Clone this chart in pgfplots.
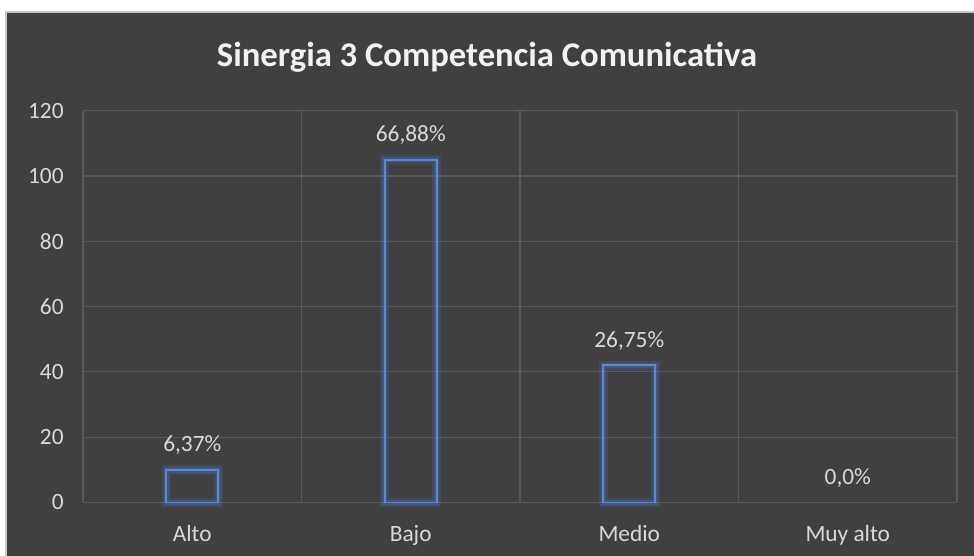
\documentclass[border=0pt]{standalone}
\usepackage{pgfplots}
\pgfplotsset{compat=1.18}
\usepackage{fontspec}
\setmainfont{Carlito}
\definecolor{bg}{HTML}{404040}
\definecolor{gridc}{HTML}{595959}
\definecolor{txt}{HTML}{D9D9D9}
\definecolor{barc}{HTML}{4472C4}
\begin{document}
\begin{tikzpicture}
\useasboundingbox (0,0) rectangle (730.5pt,417pt);
\fill[white] (0,0) rectangle (730.5pt,417pt);
\fill[bg] (4.5pt,0) rectangle (730.5pt,408pt);
\draw[line width=1.2pt, color=gray!45] (4.5pt,0) -- (4.5pt,408pt) -- (731pt,408pt);
\node[anchor=base, text=white!95!black, font=\fontsize{26}{30}\selectfont\bfseries] at (365.25pt,366.75pt) {Sinergia 3 Competencia Comunicativa};
\begin{axis}[
  at={(62.25pt,40.125pt)}, anchor=south west,
  scale only axis, width=655.5pt, height=293.85pt,
  xmin=-0.5, xmax=3.5, ymin=0, ymax=120,
  ytick={0,20,...,120},
  xtick={0,1,2,3},
  xticklabels={Alto,Bajo,Medio,Muy alto},
  minor xtick={-0.5,0.5,1.5,2.5,3.5},
  ymajorgrids, xminorgrids,
  major grid style={gridc, line width=0.9pt},
  minor grid style={gridc, line width=0.9pt},
  axis line style={draw=none},
  major tick length=0pt, minor tick length=0pt,
  tick style={draw=none},
  /pgf/number format/assume math mode=true,
  ticklabel style={font=\fontsize{17.5}{20}\selectfont, text=txt},
  yticklabel style={xshift=-11pt},
  xticklabel style={anchor=base, yshift=-29.4pt},
  ybar, bar width=39pt, bar shift=0pt,
  clip=false,
]
\addplot[draw=barc, line width=7pt, draw opacity=0.2, fill=none] coordinates {(0,10) (1,105) (2,42)};
\addplot[draw=barc, line width=4pt, draw opacity=0.35, fill=none] coordinates {(0,10) (1,105) (2,42)};
\addplot[draw=barc!85!white, line width=1.3pt, fill=none] coordinates {(0,10) (1,105) (2,42)};
\addplot[draw=none, fill=none, nodes near coords, point meta=explicit symbolic,
  nodes near coords style={anchor=base, yshift=13.7pt, text=txt, font=\fontsize{17.5}{20}\selectfont}]
  coordinates {(0,10)[6,37\%] (1,105)[66,88\%] (2,42)[26,75\%] (3,0)[0,0\%]};
\end{axis}
\end{tikzpicture}
\end{document}
